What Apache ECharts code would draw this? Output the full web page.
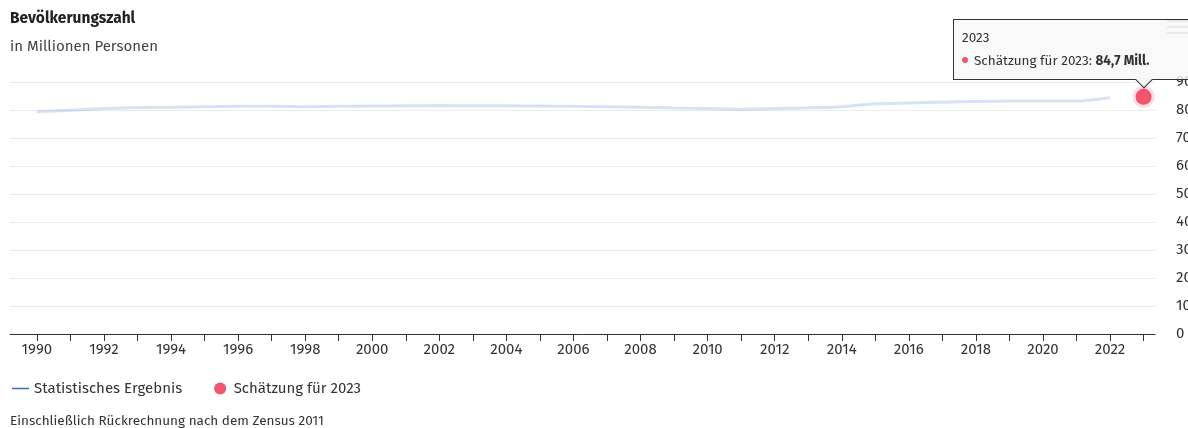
<!DOCTYPE html>
<html>
<head>
<meta charset="utf-8">
<script src="https://cdn.jsdelivr.net/npm/echarts@6/dist/echarts.min.js"></script>
<style>
html,body{margin:0;padding:0;overflow:hidden;background:#fff;}
#chart{width:1188px;height:428px;overflow:hidden;position:relative;}
.tipbox::after{content:"";position:absolute;left:184px;bottom:-7px;width:11px;height:11px;background:#f7f7f7;border-right:1px solid #333;border-bottom:1px solid #333;transform:rotate(45deg);}
</style>
</head>
<body>
<div id="chart"></div>
<script>
const years = [1990,1991,1992,1993,1994,1995,1996,1997,1998,1999,2000,2001,2002,2003,2004,2005,2006,2007,2008,2009,2010,2011,2012,2013,2014,2015,2016,2017,2018,2019,2020,2021,2022];
const population = [79.4,79.9,80.5,80.9,81.0,81.2,81.3,81.3,81.2,81.3,81.4,81.5,81.6,81.5,81.5,81.4,81.3,81.2,81.0,80.7,80.5,80.3,80.5,80.8,81.2,82.2,82.5,82.8,83.0,83.2,83.2,83.2,84.4];
const estimateYear = 2023;
const estimateValue = 84.7;
const yTicks = [0,10,20,30,40,50,60,70,80,90];
const labelYears = [1990,1992,1994,1996,1998,2000,2002,2004,2006,2008,2010,2012,2014,2016,2018,2020,2022];
const tickYears = years.concat([estimateYear]);

const FONT = '"Fira Sans","Noto Sans",sans-serif';
const chart = echarts.init(document.getElementById('chart'));
chart.setOption({
  animation:false,
  textStyle:{fontFamily:FONT},
  title:[
    {text:'Bevölkerungszahl',left:10,top:11,padding:0,textStyle:{fontSize:15.5,fontWeight:'bold',color:'#222',fontFamily:FONT}},
    {text:'in Millionen Personen',left:10,top:39,padding:0,textStyle:{fontSize:15,fontWeight:'normal',color:'#444',fontFamily:FONT}},
    {text:'Einschließlich Rückrechnung nach dem Zensus 2011',left:10,top:414,padding:0,textStyle:{fontSize:13.5,fontWeight:'normal',color:'#333',fontFamily:FONT}}
  ],
  grid:{left:10,right:33,top:82,bottom:94,containLabel:false,outerBoundsMode:'none'},
  xAxis:{
    type:'value',min:1989.2,max:2023.34,
    axisLine:{show:true,lineStyle:{color:'#333',width:1}},
    axisTick:{show:true,length:7,lineStyle:{color:'#333'},customValues:tickYears},
    axisLabel:{customValues:labelYears,formatter:v=>String(v),color:'#333',fontSize:15,margin:8,fontFamily:FONT},
    splitLine:{show:false}
  },
  yAxis:{
    type:'value',position:'right',min:0,max:90,interval:10,
    axisLine:{show:false},axisTick:{show:false},
    axisLabel:{color:'#333',fontSize:15,margin:21,fontFamily:FONT,customValues:yTicks},
    splitLine:{lineStyle:{color:'#ececec',width:1}}
  },
  legend:{
    left:7,top:376,itemGap:32,itemWidth:17,itemHeight:12,
    textStyle:{fontSize:15,color:'#333',fontFamily:FONT},
    data:[
      {name:'Statistisches Ergebnis',icon:'path://M0,0 L22,0 L22,2 L0,2 Z',itemStyle:{color:'#3b6cc3',opacity:1},lineStyle:{opacity:0}},
      {name:'Schätzung für 2023',icon:'circle',itemStyle:{color:'#f0566c',borderWidth:0,opacity:1}}
    ]
  },
  tooltip:{
    trigger:'item',triggerOn:'none',alwaysShowContent:true,
    className:'tipbox',
    backgroundColor:'rgba(247,247,247,0.8)',borderColor:'#333',borderWidth:1,borderRadius:0,
    padding:[6,40,7,8],
    extraCssText:'box-shadow:none;',
    textStyle:{fontFamily:FONT,fontSize:13.5,color:'#333'},
    position:function(){return [953,19];},
    formatter:function(p){
      return '<div style="font-family:'+FONT.replace(/"/g,"'")+';font-size:13.5px;color:#333;line-height:23px;white-space:nowrap;">'+
        p.value[0]+'<br/>'+
        '<span style="display:inline-block;width:6px;height:6px;border-radius:3px;background:#f0566c;margin-right:6px;vertical-align:2px;"></span>'+
        p.seriesName+': <b>'+String(p.value[1]).replace('.',',')+' Mill.</b></div>';
    }
  },
  graphic:[
    {type:'rect',shape:{x:1167,y:20,width:21,height:2},style:{fill:'#a8a8a8'}},
    {type:'rect',shape:{x:1167,y:26,width:21,height:2},style:{fill:'#a8a8a8'}},
    {type:'rect',shape:{x:1167,y:32,width:21,height:2},style:{fill:'#a8a8a8'}}
  ],
  series:[
    {
      name:'Statistisches Ergebnis',type:'line',showSymbol:false,silent:true,
      data:years.map((y,i)=>[y,population[i]]),
      lineStyle:{color:'#3b6cc3',width:3,opacity:0.2},
      itemStyle:{color:'#3b6cc3'},
      smooth:0.2
    },
    {
      name:'Schätzung für 2023',type:'scatter',symbol:'circle',symbolSize:16,
      data:[[estimateYear,estimateValue]],
      itemStyle:{color:'#f0566c',opacity:1,borderColor:'rgba(240,86,108,0.2)',borderWidth:6},
      z:5
    }
  ]
});
chart.dispatchAction({type:'showTip',seriesIndex:1,dataIndex:0});
</script>
</body>
</html>
